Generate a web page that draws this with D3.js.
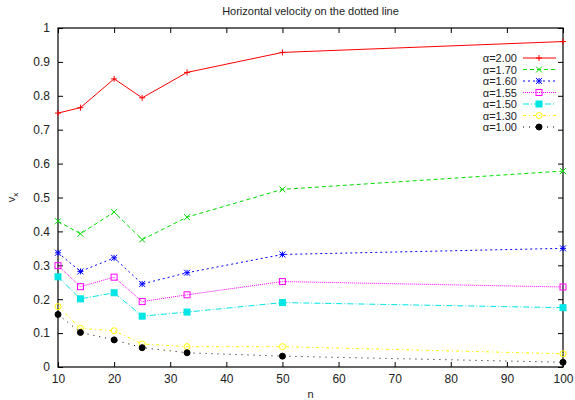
<!DOCTYPE html>
<html>
<head>
<meta charset="utf-8" />
<title>Horizontal velocity on the dotted line</title>
<script src="https://d3js.org/d3.v7.min.js"></script>
<style>
  body { margin: 0; background: #fff; }
  svg text { font-family: "Liberation Sans", Arial, sans-serif; fill: #222; }
</style>
</head>
<body>
<svg width="575" height="400"></svg>
<script>
    // Data
    var nValues = [10, 14, 20, 25, 33, 50, 100];
    var labels = ["α=2.00", "α=1.70", "α=1.60", "α=1.55", "α=1.50", "α=1.30", "α=1.00"];
    var a200 = [0.749, 0.765, 0.850, 0.794, 0.869, 0.928, 0.960];
    var a170 = [0.430, 0.393, 0.457, 0.376, 0.442, 0.524, 0.578];
    var a160 = [0.337, 0.282, 0.322, 0.245, 0.278, 0.332, 0.350];
    var a155 = [0.299, 0.237, 0.265, 0.193, 0.213, 0.252, 0.236];
    var a150 = [0.266, 0.201, 0.219, 0.150, 0.162, 0.190, 0.175];
    var a130 = [0.178, 0.114, 0.107, 0.068, 0.060, 0.060, 0.039];
    var a100 = [0.155, 0.102, 0.080, 0.057, 0.042, 0.032, 0.014];
    var xTicks = [10, 20, 30, 40, 50, 60, 70, 80, 90, 100];
    var yTicks = [0, 0.1, 0.2, 0.3, 0.4, 0.5, 0.6, 0.7, 0.8, 0.9, 1];

    var seriesValues = [a200, a170, a160, a155, a150, a130, a100];
    var colors = ["#ff0000", "#00dd00", "#0000ff", "#ff00ff", "#00e5e5", "#ffff00", "#000000"];
    var dashes = ["", "4,3", "2,3", "1,1", "6,2,1,2", "3,3,1,3", "1,5"];
    var symbols = ["plus", "cross", "star", "boxo", "box", "circo", "circ"];

    var series = labels.map(function (l, i) {
        return {
            label: l, color: colors[i], dash: dashes[i], sym: symbols[i],
            values: nValues.map(function (n, j) { return { n: n, v: seriesValues[i][j] }; })
        };
    });

    var svg = d3.select("svg");
    var margin = { top: 28, right: 12, bottom: 33, left: 58 },
        width = +svg.attr("width") - margin.left - margin.right,
        height = +svg.attr("height") - margin.top - margin.bottom;

    var x = d3.scaleLinear().domain([10, 100]).range([0, width]);
    var y = d3.scaleLinear().domain([0, 1]).range([height, 0]);

    var g = svg.append("g").attr("transform", "translate(" + margin.left + "," + margin.top + ")");

    // axes with inward ticks, mirrored on top and right
    function styleAxis(sel) {
        sel.select(".domain").remove();
        sel.selectAll("line").attr("stroke", "#000");
        sel.selectAll("text").style("font-size", "12px").attr("fill", "#222");
    }
    g.append("g").attr("transform", "translate(0," + height + ")")
        .call(d3.axisBottom(x).tickValues(xTicks).tickFormat(d3.format("d")).tickSizeInner(-5).tickSizeOuter(0).tickPadding(7))
        .call(styleAxis);
    g.append("g")
        .call(d3.axisTop(x).tickValues(xTicks).tickFormat("").tickSizeInner(-5).tickSizeOuter(0))
        .call(styleAxis);
    g.append("g")
        .call(d3.axisLeft(y).tickValues(yTicks).tickFormat(d3.format("")).tickSizeInner(-5).tickSizeOuter(0).tickPadding(8))
        .call(styleAxis);
    g.append("g").attr("transform", "translate(" + width + ",0)")
        .call(d3.axisRight(y).tickValues(yTicks).tickFormat("").tickSizeInner(-5).tickSizeOuter(0))
        .call(styleAxis);

    g.append("rect").attr("width", width).attr("height", height)
        .attr("fill", "none").attr("stroke", "#000").attr("stroke-width", 1.2);

    // point symbols
    function drawSymbol(sel, sym, color, cx, cy) {
        var s = 3;
        var p = sel.append("g").attr("transform", "translate(" + cx + "," + cy + ")");
        if (sym === "plus" || sym === "star") {
            p.append("path").attr("d", "M" + (-s) + ",0H" + s + "M0," + (-s) + "V" + s)
                .attr("stroke", color).attr("stroke-width", 1);
        }
        if (sym === "cross" || sym === "star") {
            p.append("path").attr("d", "M" + (-s) + "," + (-s) + "L" + s + "," + s + "M" + (-s) + "," + s + "L" + s + "," + (-s))
                .attr("stroke", color).attr("stroke-width", 1);
        }
        if (sym === "boxo" || sym === "box") {
            p.append("rect").attr("x", -s).attr("y", -s).attr("width", 2 * s).attr("height", 2 * s)
                .attr("fill", sym === "box" ? color : "none").attr("stroke", color).attr("stroke-width", 1);
        }
        if (sym === "circo" || sym === "circ") {
            p.append("circle").attr("r", s)
                .attr("fill", sym === "circ" ? color : "none").attr("stroke", color).attr("stroke-width", 1);
        }
    }

    var line = d3.line().x(function (d) { return x(d.n); }).y(function (d) { return y(d.v); });

    var plot = g.append("g");
    series.forEach(function (s) {
        plot.append("path").datum(s.values)
            .attr("fill", "none").attr("stroke", s.color).attr("stroke-width", 1)
            .attr("stroke-dasharray", s.dash || null)
            .attr("d", line);
        s.values.forEach(function (d) {
            drawSymbol(plot, s.sym, s.color, x(d.n), y(d.v));
        });
    });

    // legend
    var legend = g.append("g").attr("transform", "translate(" + (width - 46) + ",30)");
    series.forEach(function (s, i) {
        var row = legend.append("g").attr("transform", "translate(0," + (i * 11.5) + ")");
        row.append("text").attr("x", 0).attr("y", 4).attr("text-anchor", "end")
            .style("font-size", "11px").text(s.label);
        row.append("line").attr("x1", 6).attr("x2", 39).attr("y1", 0).attr("y2", 0)
            .attr("stroke", s.color).attr("stroke-width", 1).attr("stroke-dasharray", s.dash || null);
        drawSymbol(row, s.sym, s.color, 22, 0);
    });

    // titles
    svg.append("text").attr("x", margin.left + width / 2).attr("y", 15)
        .attr("text-anchor", "middle").style("font-size", "11px")
        .text("Horizontal velocity on the dotted line");
    svg.append("text").attr("x", margin.left + width / 2).attr("y", 398)
        .attr("text-anchor", "middle").style("font-size", "11px").text("n");
    var yl = svg.append("text").attr("transform", "translate(15," + (margin.top + height / 2) + ") rotate(-90)")
        .attr("text-anchor", "middle").style("font-size", "11px");
    yl.append("tspan").text("v");
    yl.append("tspan").attr("dy", 3).style("font-size", "8px").text("x");
</script>
</body>
</html>
